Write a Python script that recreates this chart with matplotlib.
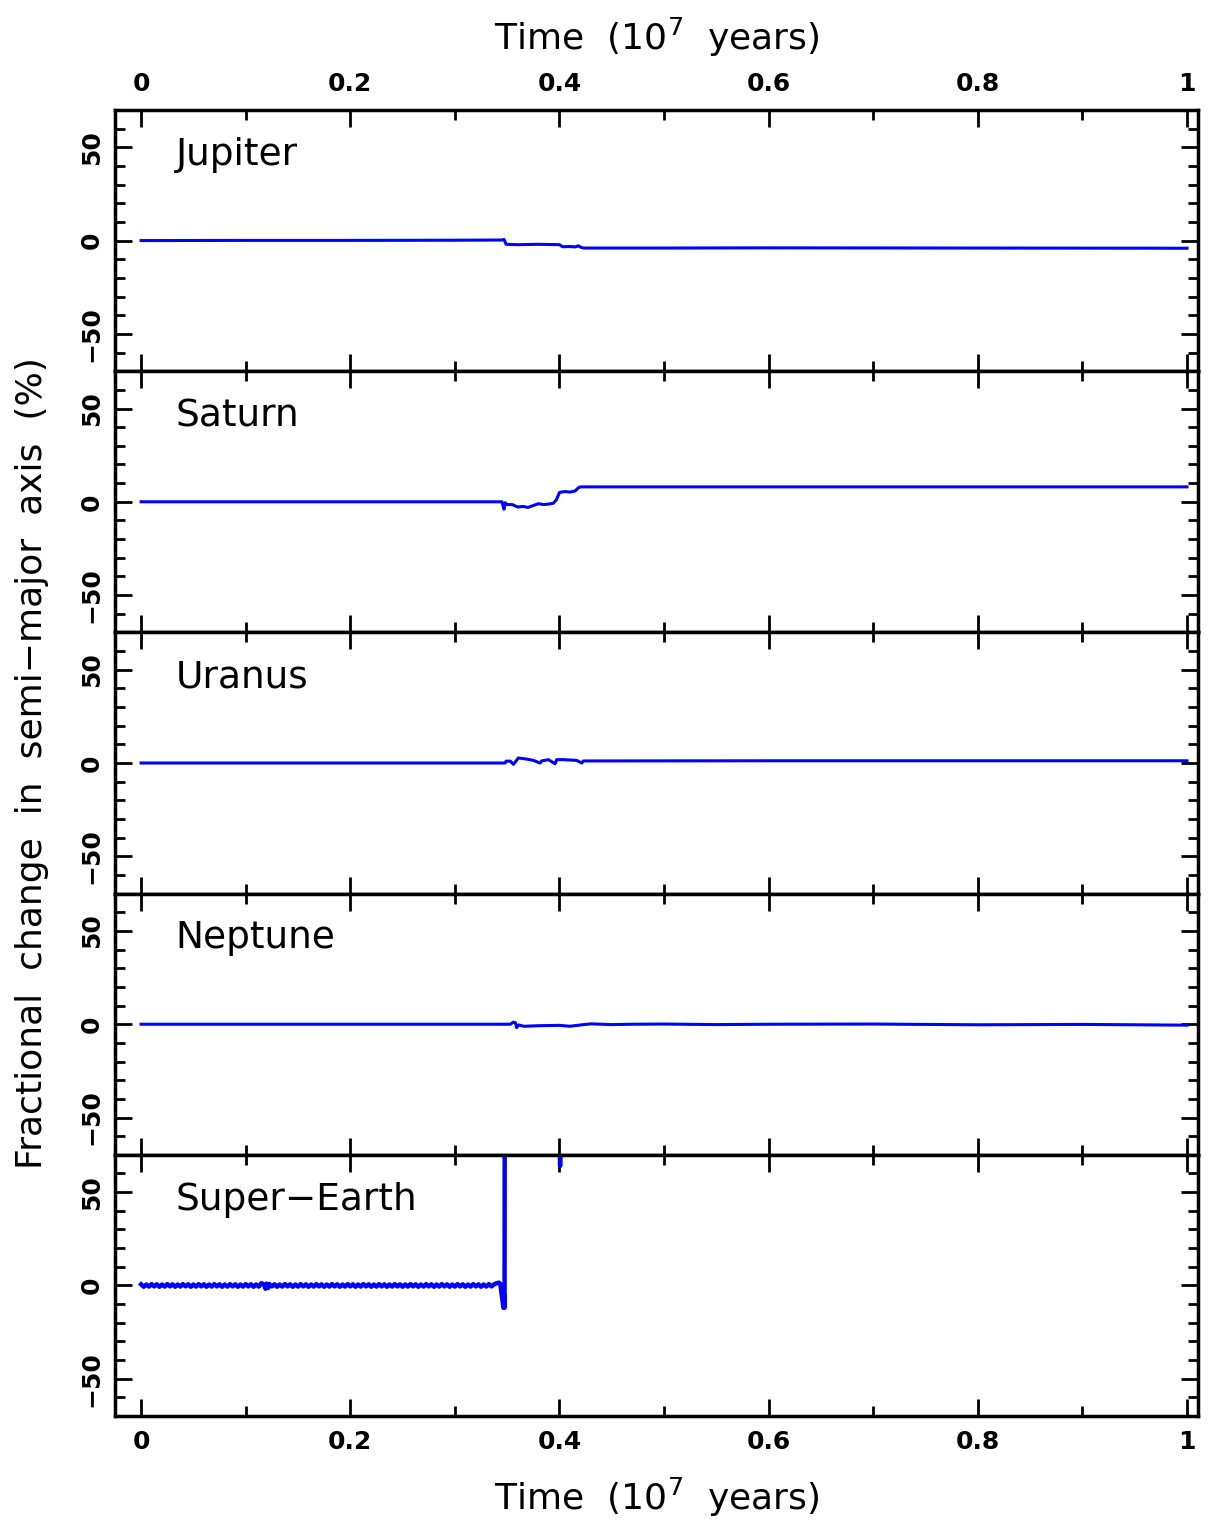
import numpy as np
import matplotlib
matplotlib.use("Agg")
import matplotlib.pyplot as plt
from matplotlib.ticker import MultipleLocator, FuncFormatter

# planet names, one panel each
planets = ["Jupiter", "Saturn", "Uranus", "Neptune", "Super\u2212Earth"]

# time in units of 1e7 yr, fractional change in semi-major axis in %
t_jup = [0, 0.1, 0.2, 0.3, 0.345, 0.347, 0.349, 0.36, 0.38, 0.40, 0.403, 0.41,
         0.415, 0.418, 0.42, 0.423, 0.5, 0.6, 0.8, 1.0]
a_jup = [0.0, 0.1, 0.1, 0.2, 0.3, 0.6, -2.0, -2.2, -2.0, -2.2, -3.3, -3.2,
         -3.4, -2.8, -3.5, -4.0, -4.0, -3.9, -4.0, -4.1]

t_sat = [0, 0.2, 0.345, 0.347, 0.348, 0.350, 0.355, 0.36, 0.365, 0.37, 0.375,
         0.38, 0.385, 0.39, 0.394, 0.397, 0.40, 0.405, 0.41, 0.415, 0.418,
         0.42, 0.5, 1.0]
a_sat = [0, 0, 0, -4.0, -0.5, -1.5, -1.5, -2.8, -2.5, -3.0, -2.0, -1.0, -1.5,
         -1.2, -0.8, 1.0, 5.0, 5.5, 5.2, 5.8, 7.5, 8.0, 8.0, 8.0]

t_ura = [0, 0.2, 0.348, 0.349, 0.353, 0.356, 0.3607, 0.3687, 0.375, 0.3815,
         0.383, 0.3894, 0.3958, 0.3974, 0.4038, 0.4165, 0.4213, 0.4229, 0.6, 1.0]
a_ura = [0, 0, 0, 1.0, 1.0, -0.7, 2.7, 2.1, 1.4, 0.0, 1.1, 1.8, -0.4, 1.8,
         1.8, 1.4, 0.0, 1.1, 1.2, 1.2]

t_nep = [0, 0.2, 0.353, 0.356, 0.358, 0.359, 0.361, 0.366, 0.38, 0.40, 0.41,
         0.42, 0.43, 0.45, 0.47, 0.5, 0.55, 0.6, 0.7, 0.8, 0.9, 1.0]
a_nep = [0, 0, 0, 1.1, 0.7, -1.8, -0.4, -1.1, -0.8, -0.6, -1.1, -0.4, 0.2,
         -0.2, 0.0, 0.1, -0.2, 0.0, 0.1, -0.3, -0.1, -0.5]

# super-earth: dense wobbly band until ejection near 0.348
t_se = [0.0000, 0.0025, 0.0050, 0.0075, 0.0100, 0.0125, 0.0150, 0.0175,
        0.0200, 0.0225, 0.0250, 0.0275, 0.0300, 0.0325, 0.0350, 0.0375,
        0.0400, 0.0425, 0.0450, 0.0475, 0.0500, 0.0525, 0.0550, 0.0575,
        0.0600, 0.0625, 0.0650, 0.0675, 0.0700, 0.0725, 0.0750, 0.0775,
        0.0800, 0.0825, 0.0850, 0.0875, 0.0900, 0.0925, 0.0950, 0.0975,
        0.1000, 0.1025, 0.1050, 0.1075, 0.1100, 0.1125, 0.1150, 0.1175,
        0.1190, 0.1200, 0.1215, 0.1225, 0.1250, 0.1275, 0.1300, 0.1325,
        0.1350, 0.1375, 0.1400, 0.1425, 0.1450, 0.1475, 0.1500, 0.1525,
        0.1550, 0.1575, 0.1600, 0.1625, 0.1650, 0.1675, 0.1700, 0.1725,
        0.1750, 0.1775, 0.1800, 0.1825, 0.1850, 0.1875, 0.1900, 0.1925,
        0.1950, 0.1975, 0.2000, 0.2025, 0.2050, 0.2075, 0.2100, 0.2125,
        0.2150, 0.2175, 0.2200, 0.2225, 0.2250, 0.2275, 0.2300, 0.2325,
        0.2350, 0.2375, 0.2400, 0.2425, 0.2450, 0.2475, 0.2500, 0.2525,
        0.2550, 0.2575, 0.2600, 0.2625, 0.2650, 0.2675, 0.2700, 0.2725,
        0.2750, 0.2775, 0.2800, 0.2825, 0.2850, 0.2875, 0.2900, 0.2925,
        0.2950, 0.2975, 0.3000, 0.3025, 0.3050, 0.3075, 0.3100, 0.3125,
        0.3150, 0.3175, 0.3200, 0.3225, 0.3250, 0.3275, 0.3300, 0.3325,
        0.3350, 0.3375, 0.3400, 0.3420, 0.3435, 0.3445, 0.3455, 0.3465,
        0.3470, 0.3475, 0.3480, 0.4003, 0.4006, 0.4009]
a_se = [0.6, -0.7, 0.5, -0.6, 0.7, -0.5, 0.6, -0.7, 0.5, -0.6, 0.7, -0.5,
        0.6, -0.7, 0.5, -0.6, 0.7, -0.5, 0.6, -0.7, 0.5, -0.6, 0.7, -0.5,
        0.6, -0.7, 0.5, -0.6, 0.7, -0.5, 0.6, -0.7, 0.5, -0.6, 0.7, -0.5,
        0.6, -0.7, 0.5, -0.6, 0.7, -0.5, 0.6, -0.7, 0.5, -0.6, 1.2, 0.4,
        -1.8, 1.0, -1.4, 0.8, -0.5, 0.6, -0.7, 0.5, -0.6, 0.7, -0.5, 0.6,
        -0.7, 0.5, -0.6, 0.7, -0.5, 0.6, -0.7, 0.5, -0.6, 0.7, -0.5, 0.6,
        -0.7, 0.5, -0.6, 0.7, -0.5, 0.6, -0.7, 0.5, -0.6, 0.7, -0.5, 0.6,
        -0.7, 0.5, -0.6, 0.7, -0.5, 0.6, -0.7, 0.5, -0.6, 0.7, -0.5, 0.6,
        -0.7, 0.5, -0.6, 0.7, -0.5, 0.6, -0.7, 0.5, -0.6, 0.7, -0.5, 0.6,
        -0.7, 0.5, -0.6, 0.7, -0.5, 0.6, -0.7, 0.5, -0.6, 0.7, -0.5, 0.6,
        -0.7, 0.5, -0.6, 0.7, -0.5, 0.6, -0.7, 0.5, -0.6, 0.7, -0.5, 0.6,
        -0.7, 0.5, -0.6, 0.7, -0.5, 0.6, 1.2, 1.5, 0.8, -4.0, -8.0, -12.0,
        -5.0, -12.0, 300.0, 300.0, 64.0, 300.0]

series = [(t_jup, a_jup), (t_sat, a_sat), (t_ura, a_ura), (t_nep, a_nep),
          (t_se, a_se)]

plt.rcParams['font.family'] = ['DejaVu Sans']
plt.rcParams['axes.unicode_minus'] = True

fig, axes = plt.subplots(5, 1, figsize=(12.14, 15.21), dpi=100, sharex=True)
fig.subplots_adjust(left=0.0947, right=0.9868, top=0.9277, bottom=0.069,
                    hspace=0)

for i, ax in enumerate(axes):
    t, a = series[i]
    ax.plot(t, a, color='#0000ff', lw=2.2 if i < 4 else 3.2)
    ax.set_xlim(-0.025, 1.0105)
    ax.set_ylim(-70, 70)
    ax.xaxis.set_major_locator(MultipleLocator(0.2))
    ax.xaxis.set_minor_locator(MultipleLocator(0.1))
    ax.yaxis.set_major_locator(MultipleLocator(50))
    ax.yaxis.set_minor_locator(MultipleLocator(10))
    ax.tick_params(which='both', direction='in', top=True, right=True,
                   width=2, labelsize=18)
    ax.tick_params(which='major', length=12)
    ax.tick_params(which='minor', length=7)
    ax.tick_params(axis='y', pad=8)
    ax.tick_params(labelbottom=(i == 4), labeltop=(i == 0))
    for lab in ax.get_yticklabels() + ax.get_xticklabels():
        lab.set_fontweight('bold')
    for lab in ax.get_yticklabels():
        lab.set_rotation(90)
        lab.set_va('center')
    for s in ax.spines.values():
        s.set_linewidth(2.5)
    ax.text(0.056, 0.79, planets[i], transform=ax.transAxes, fontsize=27,
            va='baseline', ha='left')

fmt = FuncFormatter(lambda v, p: "%g" % round(v, 6))
axes[0].xaxis.set_major_formatter(fmt)
axes[0].tick_params(axis='x', pad=10)
axes[4].tick_params(axis='x', pad=10)

axes[0].set_xlabel("Time  (10$^7$  years)", fontsize=26, labelpad=16)
axes[0].xaxis.set_label_position('top')
axes[4].set_xlabel("Time  (10$^7$  years)", fontsize=26, labelpad=16)

fig.text(0.026, 0.498, "Fractional  change  in  semi\u2212major  axis  (%)",
         rotation=90, fontsize=26, ha='center', va='center')

fig.savefig("out.png", dpi=100)
